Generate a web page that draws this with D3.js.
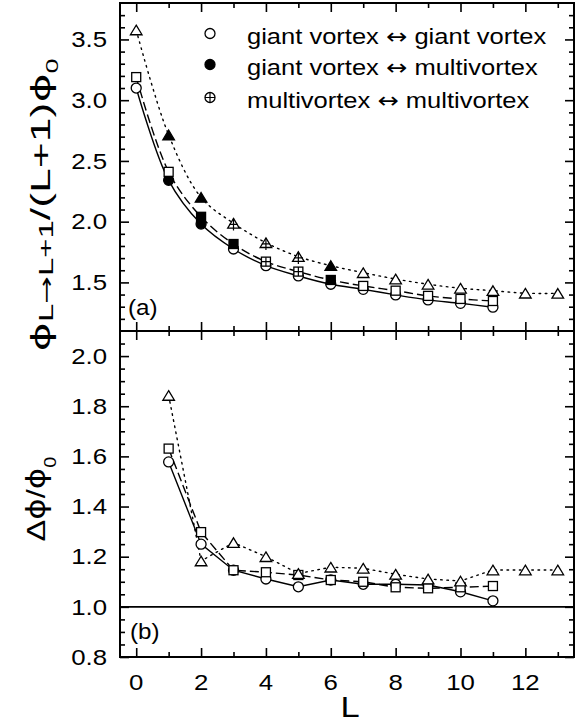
<!DOCTYPE html>
<html>
<head>
<meta charset="utf-8">
<script src="https://cdn.jsdelivr.net/npm/d3@7/dist/d3.min.js"></script>
<style>
  html, body { margin: 0; padding: 0; background: #fff; }
  svg { display: block; }
  text { font-family: "Liberation Sans", Arial, Helvetica, sans-serif; fill: #000; }
  .sym { font-family: "DejaVu Sans", sans-serif; }
</style>
</head>
<body>
<svg id="chart" width="584" height="723"></svg>
<script>
// ---------------- data ----------------
const L = [0, 1, 2, 3, 4, 5, 6, 7, 8, 9, 10, 11, 12, 13];
// panel (a): phi_{L->L+1}/(L+1)phi_0
const topCircle   = [3.10, 2.34, 1.98, 1.775, 1.638, 1.553, 1.485, 1.443, 1.397, 1.356, 1.328, 1.296];
const topCircleT  = ["o","f","f","o","o","o","o","o","o","o","o","o"];
const topSquare   = [3.19, 2.41, 2.04, 1.816, 1.671, 1.589, 1.52, 1.471, 1.432, 1.389, 1.364, 1.347];
const topSquareT  = ["o","o","f","f","p","p","f","o","o","o","o","o"];
const topTri      = [3.578, 2.714, 2.20, 1.987, 1.827, 1.712, 1.638, 1.58, 1.528, 1.485, 1.452, 1.432, 1.411, 1.41];
const topTriT     = ["o","f","f","p","p","p","f","o","o","o","o","o","o","o"];
// panel (b): delta phi / phi_0 (starting at L = 1)
const botCircle   = [1.578, 1.25, 1.146, 1.111, 1.08, 1.107, 1.09, 1.09, 1.087, 1.06, 1.024];
const botSquare   = [1.631, 1.298, 1.146, 1.138, 1.127, 1.107, 1.10, 1.078, 1.074, 1.078, 1.083];
const botTri      = [1.843, 1.183, 1.256, 1.20, 1.133, 1.158, 1.154, 1.13, 1.111, 1.103, 1.147, 1.147, 1.147];
// ticks
const xMajor = [0, 2, 4, 6, 8, 10, 12];
const xMinor = [1, 3, 5, 7, 9, 11, 13];
const topMajor = [1.5, 2.0, 2.5, 3.0, 3.5];
const botMajor = [0.8, 1.0, 1.2, 1.4, 1.6, 1.8, 2.0];
const legendLabels = [["giant vortex", "giant vortex"], ["giant vortex", "multivortex"], ["multivortex", "multivortex"]];
const legendTypes = ["o", "f", "p"];

// ---------------- layout ----------------
const X0 = 120, X1 = 574, YT = 3, YM = 331, YB = 657;
const SX = 1.2;
const svg = d3.select("#chart");

const x = d3.scaleLinear().domain([-0.5, 13.5]).range([X0, X1]);
const yTop = d3.scaleLinear().domain([1.1, 3.8]).range([YM, YT]);
const yBot = d3.scaleLinear().domain([0.8, 2.1]).range([YB, YM]);

const r2 = v => Math.round(v * 100) / 100;
const topMinor = d3.range(12, 38).map(v => r2(v / 10)).filter(v => !topMajor.some(m => Math.abs(m - v) < 1e-6));
const botMinor = d3.range(17, 42).map(v => r2(v * 0.05)).filter(v => !botMajor.some(m => Math.abs(m - v) < 1e-6));

function axisG(axis, tx, ty) {
  const g = svg.append("g").attr("transform", `translate(${tx},${ty})`).call(axis);
  g.select(".domain").remove();
  g.selectAll("line").attr("stroke", "#000").attr("stroke-width", 1.6);
  g.selectAll("text").remove();
  return g;
}
const MAJ = 9, MIN = 5;
axisG(d3.axisLeft(yTop).tickValues(topMajor).tickSize(-MAJ).tickFormat(""), X0, 0);
axisG(d3.axisLeft(yTop).tickValues(topMinor).tickSize(-MIN).tickFormat(""), X0, 0);
axisG(d3.axisRight(yTop).tickValues(topMajor).tickSize(-MAJ).tickFormat(""), X1, 0);
axisG(d3.axisRight(yTop).tickValues(topMinor).tickSize(-MIN).tickFormat(""), X1, 0);
axisG(d3.axisLeft(yBot).tickValues(botMajor).tickSize(-MAJ).tickFormat(""), X0, 0);
axisG(d3.axisLeft(yBot).tickValues(botMinor).tickSize(-MIN).tickFormat(""), X0, 0);
axisG(d3.axisRight(yBot).tickValues(botMajor).tickSize(-MAJ).tickFormat(""), X1, 0);
axisG(d3.axisRight(yBot).tickValues(botMinor).tickSize(-MIN).tickFormat(""), X1, 0);
axisG(d3.axisTop(x).tickValues(xMajor).tickSize(-MAJ).tickFormat(""), 0, YT);
axisG(d3.axisTop(x).tickValues(xMinor).tickSize(-MIN).tickFormat(""), 0, YT);
axisG(d3.axisBottom(x).tickValues(xMajor).tickSize(-MAJ).tickFormat(""), 0, YM);
axisG(d3.axisBottom(x).tickValues(xMinor).tickSize(-MIN).tickFormat(""), 0, YM);
axisG(d3.axisTop(x).tickValues(xMajor).tickSize(-MAJ).tickFormat(""), 0, YM);
axisG(d3.axisTop(x).tickValues(xMinor).tickSize(-MIN).tickFormat(""), 0, YM);
axisG(d3.axisBottom(x).tickValues(xMajor).tickSize(-MAJ).tickFormat(""), 0, YB);
axisG(d3.axisBottom(x).tickValues(xMinor).tickSize(-MIN).tickFormat(""), 0, YB);

// frame
svg.append("rect").attr("x", X0).attr("y", YT).attr("width", X1 - X0).attr("height", YB - YT)
  .attr("fill", "none").attr("stroke", "#000").attr("stroke-width", 2);
svg.append("line").attr("x1", X0).attr("x2", X1).attr("y1", YM).attr("y2", YM)
  .attr("stroke", "#000").attr("stroke-width", 2);
svg.append("line").attr("x1", X0).attr("x2", X1).attr("y1", yBot(1.0)).attr("y2", yBot(1.0))
  .attr("stroke", "#000").attr("stroke-width", 1.6);

function txt(xp, yp, str, size, anchor, sx) {
  return svg.append("text")
    .attr("transform", `translate(${xp},${yp}) scale(${sx},1)`)
    .attr("text-anchor", anchor).attr("font-size", size).text(str);
}
const fmt = d3.format(".1f");
const TF = 21.5;
topMajor.forEach(v => txt(107, yTop(v) + 0.36 * TF, fmt(v), TF, "end", SX));
botMajor.forEach(v => txt(107, yBot(v) + 0.36 * TF, fmt(v), TF, "end", SX));
xMajor.forEach(v => txt(x(v), 689.5, String(v), TF, "middle", SX));
txt(350, 717, "L", 30, "middle", 1.15);
txt(128, 315, "(a)", 22, "start", 1.1);
txt(130, 638.5, "(b)", 22, "start", 1.1);

// y-axis labels (rotated)
function yLabel(cx, cy, parts, sLen, fs) {
  const t = svg.append("text")
    .attr("transform", `translate(${cx},${cy}) rotate(-90) scale(${sLen},1)`)
    .attr("text-anchor", "middle").attr("font-size", fs);
  parts.forEach(p => {
    const ts = t.append("tspan").text(p.t);
    if (p.s) ts.attr("font-size", p.s);
    if (p.dy) ts.attr("dy", p.dy);
    if (p.sym) ts.attr("class", "sym");
  });
}
yLabel(50, 205, [
  { t: "\u03D5", sym: true },
  { t: "L", s: 20, dy: 3 },
  { t: "\u2192", s: 20, sym: true },
  { t: "L+1", s: 20 },
  { t: "/(L+1)", dy: -3 },
  { t: "\u03D5", sym: true },
  { t: "0", s: 16, dy: 8 }
], 1.65, 27);
yLabel(45, 499, [
  { t: "\u0394" },
  { t: "\u03D5", sym: true },
  { t: "/" },
  { t: "\u03D5", sym: true },
  { t: "0", s: 16, dy: 11 }
], 1.25, 26);

// ---------------- series ----------------
const lineTop = d3.line().x((d, i) => x(L[i])).y(d => yTop(d)).curve(d3.curveCatmullRom.alpha(0.5));
const lineBot = d3.line().x((d, i) => x(L[i + 1])).y(d => yBot(d));

function drawLine(path, data, dash, cap) {
  svg.append("path").attr("d", path(data)).attr("fill", "none").attr("stroke", "#000")
    .attr("stroke-width", 1.4).attr("stroke-dasharray", dash)
    .attr("stroke-linecap", cap || "butt");
}
drawLine(lineTop, topCircle, null);
drawLine(lineTop, topSquare, "9,4");
drawLine(lineTop, topTri, "1.6,4.6", "round");
drawLine(lineBot, botCircle, null);
drawLine(lineBot, botSquare, "9,4");
drawLine(lineBot, botTri, "1.6,4.6", "round");

function marker(shape, cx, cy, type) {
  const g = svg.append("g").attr("transform", `translate(${cx},${cy})`);
  const fill = type === "f" ? "#000" : "#fff";
  let s;
  if (shape === "circle") {
    s = 5;
    g.append("circle").attr("r", s).attr("fill", fill).attr("stroke", "#000").attr("stroke-width", 1.3);
    if (type === "p") {
      g.append("path").attr("d", `M${-s},0H${s}M0,${-s}V${s}`).attr("stroke", "#000").attr("stroke-width", 1.2);
    }
  } else if (shape === "square") {
    s = 4.5;
    g.append("rect").attr("x", -s).attr("y", -s).attr("width", 2 * s).attr("height", 2 * s)
      .attr("fill", fill).attr("stroke", "#000").attr("stroke-width", 1.3);
    if (type === "p") {
      g.append("path").attr("d", `M${-s},0H${s}M0,${-s}V${s}`).attr("stroke", "#000").attr("stroke-width", 1.2);
    }
  } else {
    const w = 5.8, h = 9.6;
    g.append("path").attr("d", `M0,${-h / 2}L${w},${h / 2}L${-w},${h / 2}Z`)
      .attr("fill", fill).attr("stroke", "#000").attr("stroke-width", 1.3).attr("stroke-linejoin", "miter");
    if (type === "p") {
      g.append("path").attr("d", `M${-w * 0.72},${h * 0.12}H${w * 0.72}M0,${-h / 2}V${h / 2 + 2.5}`)
        .attr("stroke", "#000").attr("stroke-width", 1.2);
    }
  }
}
topCircle.forEach((v, i) => marker("circle", x(L[i]), yTop(v), topCircleT[i]));
topSquare.forEach((v, i) => marker("square", x(L[i]), yTop(v), topSquareT[i]));
topTri.forEach((v, i) => marker("tri", x(L[i]), yTop(v), topTriT[i]));
botCircle.forEach((v, i) => marker("circle", x(L[i + 1]), yBot(v), "o"));
botSquare.forEach((v, i) => marker("square", x(L[i + 1]), yBot(v), "o"));
botTri.forEach((v, i) => marker("tri", x(L[i + 1]), yBot(v), "o"));

// legend
const legY = [33.5, 64.5, 97.5];
legendLabels.forEach((lab, i) => {
  marker("circle", 210, legY[i], legendTypes[i]);
  const t = txt(247, legY[i] + 10.5, "", 22, "start", 1.16);
  t.append("tspan").text(lab[0] + " ");
  t.append("tspan").attr("class", "sym").text("\u2194");
  t.append("tspan").text(" " + lab[1]);
});
</script>
</body>
</html>
